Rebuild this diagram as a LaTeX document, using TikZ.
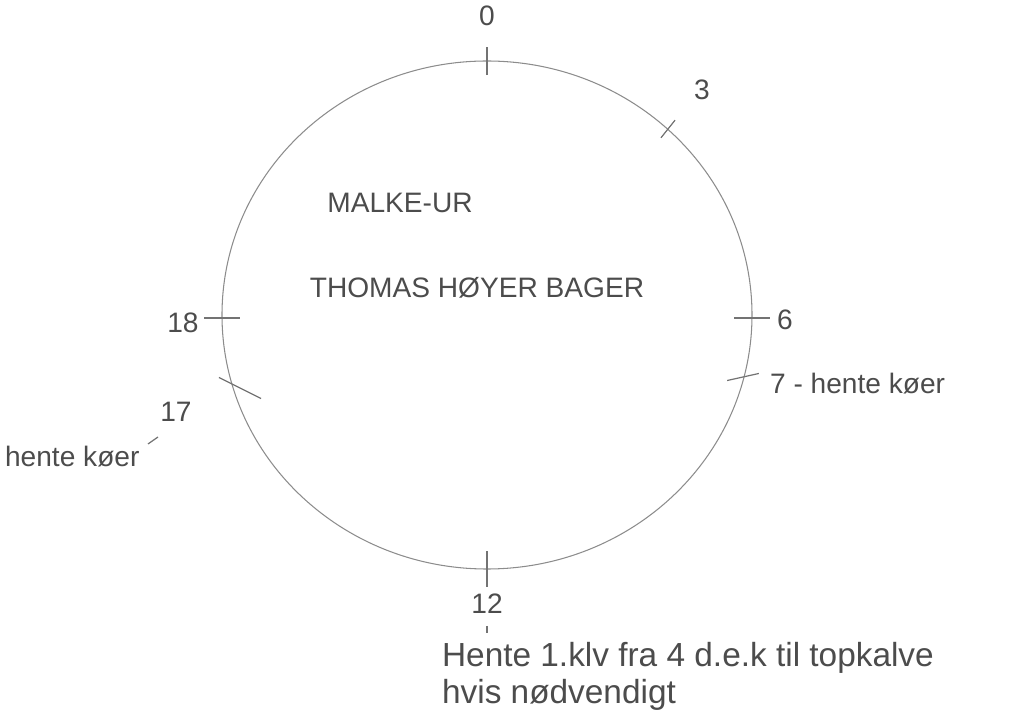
\documentclass[tikz,border=0pt]{standalone}
\usepackage{fontspec}
\setmainfont{Liberation Sans}
\begin{document}
\begin{tikzpicture}[x=0.02cm,y=-0.02cm,
  ink/.style={draw=black!45, line width=0.6pt},
  tick/.style={draw=black!55, line width=0.7pt},
  lbl/.style={text=black!70, font=\fontsize{16}{19}\selectfont, inner sep=1pt},
  note/.style={text=black!70, font=\fontsize{19}{21}\selectfont, inner sep=1pt, align=left}]
\useasboundingbox (0,0) rectangle (1015,715);
% clock rim
\coordinate (c) at (487,315);
\draw[ink] (c) ellipse [x radius=265, y radius=254];
% tick positions
\coordinate (t0) at (487,61);
\coordinate (t3) at (668,129);
\coordinate (t6) at (752,318);
\coordinate (t7) at (743,377);
\coordinate (t12) at (487,569);
\coordinate (t18) at (222,318);
\coordinate (t17) at (240,388);
\draw[tick] ([yshift=-8]t0) -- ([yshift=8]t0);
\draw[tick] ([xshift=-4,yshift=-5]t3) -- ([xshift=4,yshift=5]t3);
\draw[tick] ([xshift=-10]t6) -- ([xshift=10]t6);
\draw[tick] ([xshift=-9,yshift=-2]t7) -- ([xshift=9,yshift=2]t7);
\draw[tick] ([yshift=-10]t12) -- ([yshift=10]t12);
\draw[tick] ([xshift=-10]t18) -- ([xshift=10]t18);
\draw[tick] ([xshift=-12,yshift=6]t17) -- ([xshift=12,yshift=-6]t17);
% labels
\node[lbl] (l0) at (487,16) {0};
\node[lbl] (l3) at (702,90) {3};
\node[lbl] (l6) at (785,320) {6};
\node[lbl,anchor=west] (l7) at (768,384) {7 - hente køer};
\node[lbl] (l18) at (183,323) {18};
\node[lbl] (l17) at (176,412) {17};
\coordinate (d17a) at (148,444);
\coordinate (d17b) at (158,437);
\draw[tick] (d17a) -- (d17b);
\node[lbl,anchor=west] (k17) at (3,457) {hente køer};
\node[lbl] (l12) at (487,604) {12};
\coordinate (d12a) at (487,626);
\coordinate (d12b) at (487,633);
\draw[tick] (d12a) -- (d12b);
\node[note,anchor=north west] (n12) at (440,640) {Hente 1.klv fra 4 d.e.k til topkalve\\hvis nødvendigt};
% title
\node[lbl] (title) at (400,203) {MALKE-UR};
\node[lbl] (name) at (477,288) {THOMAS HØYER BAGER};
\end{tikzpicture}
\end{document}
